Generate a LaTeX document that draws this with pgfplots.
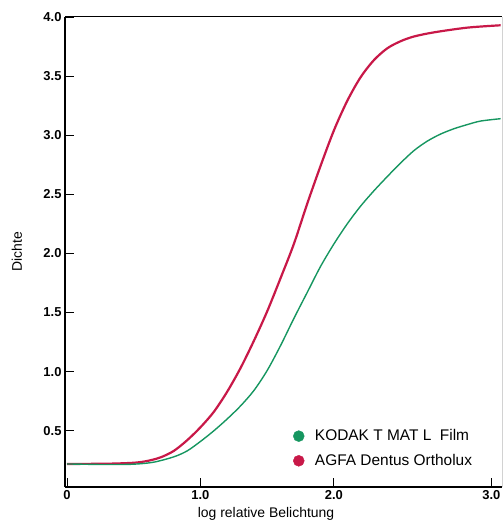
\documentclass[border=0pt]{standalone}
\usepackage{pgfplots}
\pgfplotsset{compat=1.18}
\usepackage{fontspec}
\setmainfont{Liberation Sans}
\definecolor{agfa}{RGB}{200,24,72}
\definecolor{kodak}{RGB}{22,150,96}
\pgfplotsset{dotlegend/.style={legend image code/.code={\fill[##1] (5bp,0) circle (5.5bp); \path (0,0) (19bp,0);}}}
\begin{document}
\begin{tikzpicture}
\begin{axis}[name=ax, scale only axis, width=437bp, height=470bp,
 xmin=-0.015, xmax=3.26, ymin=0.025, ymax=4.0,
 axis x line*=bottom, axis y line*=left,
 axis line style={-, line width=1.3bp, black},
 xtick={0,1,2,3.18}, xticklabels={0,1.0,2.0,3.0},
 ytick={0.5,1,1.5,2,2.5,3,3.5,4}, yticklabels={0.5,1.0,1.5,2.0,2.5,3.0,3.5,4.0},
 tick align=inside, major tick length=9bp, tick style={black, line width=0.8bp},
 ticklabel style={font=\bfseries\fontsize{13}{13}\selectfont},
 xlabel={log relative Belichtung}, ylabel={Dichte},
 xlabel style={at={(rel axis cs:0.46,-0.036)}, anchor=north, font=\fontsize{14}{14}\selectfont},
 ylabel style={at={(rel axis cs:-0.11,0.5)}, anchor=center, font=\fontsize{14}{14}\selectfont},
 legend style={draw=none, fill=none, at={(rel axis cs:0.5146,0.082)}, anchor=west,
   font=\fontsize{15.5}{15.5}\selectfont, row sep=8bp},
 legend cell align=left,
]
\addplot[agfa, line width=2.2bp, smooth, forget plot] coordinates {
(0,0.22) (0.3,0.222) (0.5,0.23) (0.6,0.245) (0.7,0.275) (0.8,0.33) (0.9,0.42)
(1.0,0.53) (1.1,0.66) (1.2,0.83) (1.3,1.03) (1.4,1.26) (1.5,1.51) (1.6,1.79)
(1.7,2.08) (1.8,2.42) (1.9,2.74) (2.0,3.04) (2.1,3.29) (2.2,3.49) (2.3,3.635)
(2.4,3.735) (2.5,3.795) (2.6,3.835) (2.75,3.87) (3.0,3.91) (3.25,3.93)};
\addplot[kodak, line width=1.4bp, smooth, forget plot] coordinates {
(0,0.22) (0.3,0.215) (0.5,0.218) (0.65,0.235) (0.8,0.28) (0.9,0.33) (1.0,0.41)
(1.1,0.5) (1.2,0.6) (1.3,0.71) (1.4,0.84) (1.5,1.01) (1.6,1.22) (1.7,1.45)
(1.8,1.67) (1.9,1.89) (2.0,2.08) (2.1,2.25) (2.2,2.40) (2.3,2.53) (2.4,2.65)
(2.5,2.765) (2.6,2.87) (2.7,2.95) (2.8,3.01) (2.9,3.055) (3.0,3.09) (3.1,3.12) (3.25,3.14)};
\addlegendimage{kodak, dotlegend}
\addlegendentry{KODAK T MAT L\ \ Film}
\addlegendimage{agfa, dotlegend}
\addlegendentry{AGFA Dentus Ortholux}
\end{axis}
\draw[line width=1bp, black] (ax.north west) -- (ax.north east);
\draw[gray!35, line width=0.8bp] (ax.south east) -- (ax.north east);
\pgfresetboundingbox
\path[use as bounding box] ([shift={(-65bp,-36bp)}]ax.south west) rectangle ++(504bp,523bp);
\end{tikzpicture}
\end{document}
